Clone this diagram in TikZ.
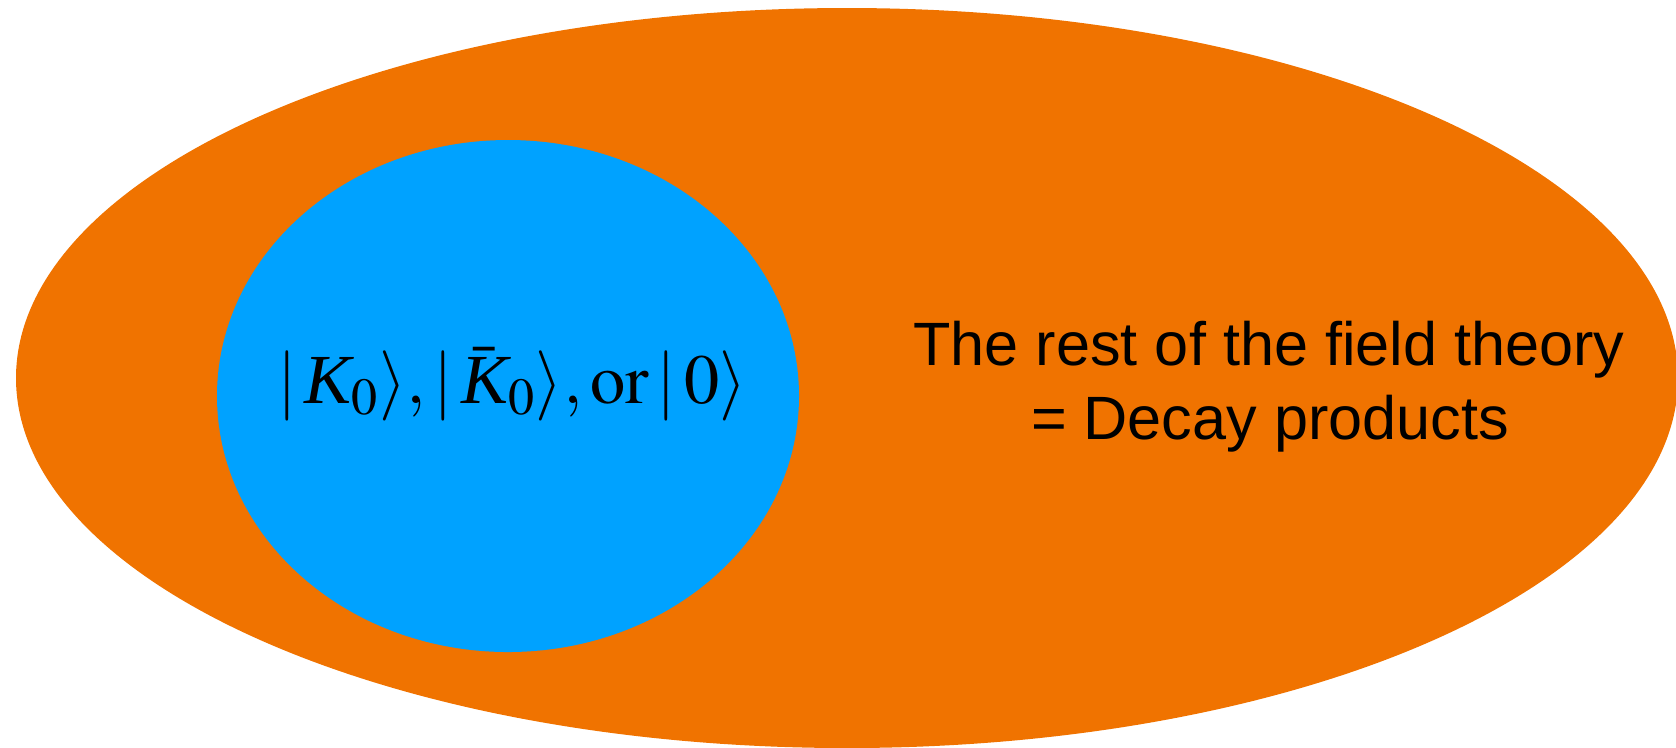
\documentclass[tikz,border=0pt]{standalone}
\usepackage{mathptmx}
\usepackage[no-math]{fontspec}
\newfontfamily\helv{Liberation Sans}
\newfontfamily\tms{Liberation Serif}
\newcommand{\kaon}{\mbox{\tms\itshape K}}
\definecolor{outerorange}{RGB}{240,115,0}
\definecolor{innerblue}{RGB}{0,162,255}
\begin{document}
\begin{tikzpicture}[x=0.01cm,y=-0.01cm,
  sanslabel/.style={inner sep=0pt,anchor=base,font=\helv\fontsize{17.4}{21}\selectfont},
  mathlabel/.style={inner sep=0pt,anchor=center,font=\fontsize{20}{24}\selectfont}]
\useasboundingbox (0,0) rectangle (1676,747);
\fill[outerorange] (847,378) ellipse [x radius=831, y radius=370];
\fill[innerblue] (508,396) ellipse [x radius=291, y radius=256];
\node[mathlabel] (states) at (512,384) {$|\,\kaon_0\rangle, |\,\bar{\kaon}_0\rangle, \mathrm{or}\,|\,0\rangle$};
\node[sanslabel] (rest1) at (1269,365) {The rest of the field theory};
\node[sanslabel] (rest2) at (1270,439) {= Decay products};
\end{tikzpicture}
\end{document}
